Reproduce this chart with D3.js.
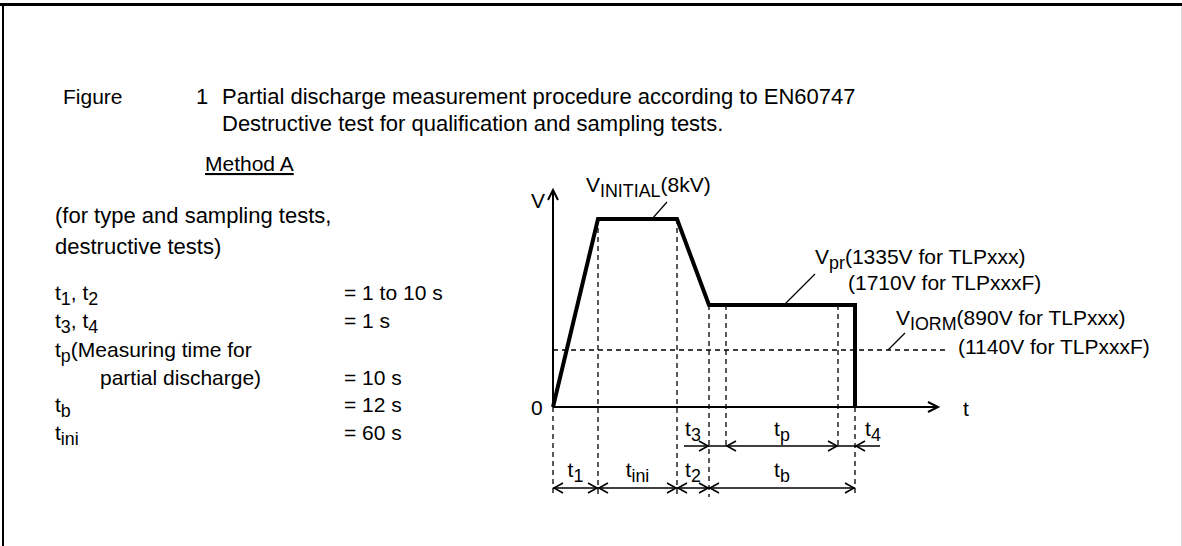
<!DOCTYPE html>
<html><head><meta charset="utf-8">
<script src="https://cdn.jsdelivr.net/npm/d3@7"></script>
<style>
body{margin:0;background:#fff}
svg{display:block}
text{font-family:"Liberation Sans",Arial,sans-serif;fill:#000}
</style>
</head><body>
<svg id="c" width="1182" height="546"></svg>
<script>
// ---- data (schematic time / voltage units) ----
const profileTime = [0, 45, 124, 156, 302, 302];
const profileVolt = [0, 188, 188, 102, 102, 0];
const guideTimes = [0, 45, 124, 156, 173, 285, 302];
const guideTop   = [0, 188, 188, 102, 102, 102, 0];
const guideBottom = ["low", "low", "low", "low", "high", "high", "low"];
const viormLevel = 57;
const lowerIntervals = [
  {name: "1", from: 0, to: 45},
  {name: "ini", from: 45, to: 124},
  {name: "2", from: 124, to: 156},
  {name: "b", from: 156, to: 302}
];
const upperIntervals = [
  {name: "3", from: 156, to: 173},
  {name: "p", from: 173, to: 285},
  {name: "4", from: 285, to: 302}
];
const listValues = ["= 1 to 10 s", "= 1 s", "", "= 10 s", "= 12 s", "= 60 s"];

const svg = d3.select("#c");
const FS = 21;

// frame
svg.append("line").attr("x1", 0).attr("x2", 1182).attr("y1", 4.5).attr("y2", 4.5).attr("stroke", "#000").attr("stroke-width", 3);
svg.append("line").attr("x1", 3).attr("x2", 3).attr("y1", 3).attr("y2", 546).attr("stroke", "#000").attr("stroke-width", 2);
svg.append("line").attr("x1", 1181.5).attr("x2", 1181.5).attr("y1", 6).attr("y2", 546).attr("stroke", "#ddd").attr("stroke-width", 1);

function txt(x, y, parts, size) {
  const t = svg.append("text").attr("x", x).attr("y", y).style("font-size", (size || FS) + "px");
  parts.forEach(p => {
    const s = t.append("tspan").text(p[0]);
    if (p[1]) s.attr("dy", 5).style("font-size", (size || FS) * 0.85 + "px");
    if (p[2]) s.attr("dy", -5);
  });
  return t;
}

// title
txt(63, 104, [["Figure"]]);
txt(196, 104, [["1"]], 22);
txt(222, 104, [["Partial discharge measurement procedure according to EN60747"]], 22);
txt(222, 131, [["Destructive test for qualification and sampling tests."]], 22);
txt(205, 171, [["Method A"]]).style("text-decoration", "underline");
txt(55, 223, [["(for type and sampling tests,"]], 22);
txt(55, 254, [["destructive tests)"]], 22);

// definitions list
const listY = [300, 328, 357, 385, 412, 440];
txt(55, listY[0], [["t"], ["1", true], [", t", false, true], ["2", true]]);
txt(55, listY[1], [["t"], ["3", true], [", t", false, true], ["4", true]]);
txt(55, listY[2], [["t"], ["p", true], ["(Measuring time for", false, true]]);
txt(100, listY[3], [["partial discharge)"]]);
txt(55, listY[4], [["t"], ["b", true]]);
txt(55, listY[5], [["t"], ["ini", true]]);
listValues.forEach((v, i) => { if (v) txt(344, listY[i], [[v]]); });

// scales
const x = d3.scaleLinear().domain([0, 385]).range([553, 938]);
const y = d3.scaleLinear().domain([0, 217]).range([407, 190]);
const yLow = 497, yHigh = 447, yRowLow = 488, yRowHigh = 446;

// dashed guides
guideTimes.forEach((t, i) => {
  svg.append("line").attr("x1", x(t)).attr("x2", x(t))
    .attr("y1", y(guideTop[i])).attr("y2", guideBottom[i] === "low" ? yLow : yHigh)
    .attr("stroke", "#000").attr("stroke-width", 1.3).attr("stroke-dasharray", "5,4");
});
svg.append("line").attr("x1", x(0)).attr("x2", 947).attr("y1", y(viormLevel)).attr("y2", y(viormLevel))
  .attr("stroke", "#000").attr("stroke-width", 1.3).attr("stroke-dasharray", "5,4");

// axes
function chevron(px, py, dir, len, half, w) {
  len = len || 10; half = half || 5; w = w || 1.6;
  let d;
  if (dir === "r") d = `M${px - len},${py - half}L${px},${py}L${px - len},${py + half}`;
  if (dir === "l") d = `M${px + len},${py - half}L${px},${py}L${px + len},${py + half}`;
  if (dir === "u") d = `M${px - half},${py + len}L${px},${py}L${px + half},${py + len}`;
  svg.append("path").attr("d", d).attr("fill", "none").attr("stroke", "#000").attr("stroke-width", w);
}
svg.append("line").attr("x1", x(0)).attr("x2", x(0)).attr("y1", y(0)).attr("y2", y(217)).attr("stroke", "#000").attr("stroke-width", 2);
chevron(x(0), y(217), "u", 10, 5, 2);
svg.append("line").attr("x1", x(0)).attr("x2", x(385)).attr("y1", y(0)).attr("y2", y(0)).attr("stroke", "#000").attr("stroke-width", 2);
chevron(x(385), y(0), "r", 10, 5, 2);
txt(531, 208, [["V"]]);
txt(531, 415, [["0"]]);
txt(963, 416, [["t"]]);

// profile
const line = d3.line().x((d, i) => x(profileTime[i])).y((d, i) => y(profileVolt[i]));
svg.append("path").datum(profileTime).attr("d", line).attr("fill", "none")
  .attr("stroke", "#000").attr("stroke-width", 4).attr("stroke-linejoin", "miter");

// interval arrows lower row
svg.append("line").attr("x1", x(0)).attr("x2", x(302)).attr("y1", yRowLow).attr("y2", yRowLow).attr("stroke", "#000").attr("stroke-width", 1.6);
lowerIntervals.forEach(iv => {
  chevron(x(iv.from) + 1, yRowLow, "l", 9, 5);
  chevron(x(iv.to) - 1, yRowLow, "r", 9, 5);
  const cx = (x(iv.from) + x(iv.to)) / 2;
  txt(cx, 477, [["t"], [iv.name, true]]).attr("text-anchor", "middle");
});
// upper row
svg.append("line").attr("x1", x(131)).attr("x2", x(327)).attr("y1", yRowHigh).attr("y2", yRowHigh).attr("stroke", "#000").attr("stroke-width", 1.6);
chevron(x(156) - 1, yRowHigh, "r", 9, 5);
chevron(x(173) + 1, yRowHigh, "l", 9, 5);
chevron(x(285) - 1, yRowHigh, "r", 9, 5);
chevron(x(302) + 1, yRowHigh, "l", 9, 5);
txt(693, 436, [["t"], ["3", true]]).attr("text-anchor", "middle");
txt((x(173) + x(285)) / 2, 436, [["t"], ["p", true]]).attr("text-anchor", "middle");
txt(873, 436, [["t"], ["4", true]]).attr("text-anchor", "middle");

// level annotations
function leader(x1, y1, x2, y2) {
  svg.append("line").attr("x1", x1).attr("y1", y1).attr("x2", x2).attr("y2", y2).attr("stroke", "#000").attr("stroke-width", 1.2);
}
txt(586, 192, [["V"], ["INITIAL", true], ["(8kV)", false, true]]);
leader(667, 202, 652, 219);
txt(815, 264, [["V"], ["pr", true], ["(1335V for TLPxxx)", false, true]]);
txt(848, 290, [["(1710V for TLPxxxF)"]]);
leader(815, 274, 784, y(102));
txt(896, 325, [["V"], ["IORM", true], ["(890V for TLPxxx)", false, true]]);
txt(958, 354, [["(1140V for TLPxxxF)"]]);
leader(905, 333, 888, y(viormLevel));
</script>
</body></html>
